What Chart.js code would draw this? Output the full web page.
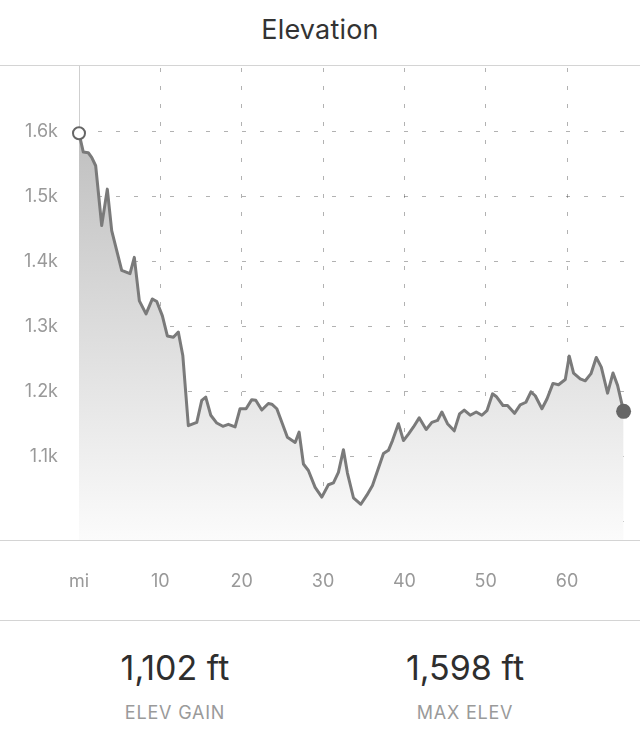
<!DOCTYPE html>
<html>
<head>
<meta charset="utf-8">
<script src="https://cdn.jsdelivr.net/npm/chart.js@4/dist/chart.umd.min.js"></script>
<style>
  html, body { margin: 0; padding: 0; background: #fff; }
  body { width: 640px; height: 740px; position: relative; overflow: hidden; font-family: Inter, Roboto, "Liberation Sans", sans-serif; }
  .title { position: absolute; top: 13px; left: 0; width: 640px; text-align: center; font-size: 27px; color: #333; line-height: 34px; letter-spacing: 0.2px; }
  .rule { position: absolute; left: 0; width: 640px; height: 1px; background: #d4d4d4; }
  #wrap { position: absolute; top: 0; left: 0; width: 640px; height: 620px; }
  .stat { position: absolute; width: 240px; text-align: center; }
  .stat .v { font-size: 34px; color: #2e2e2e; line-height: 40px; }
  .stat .l { font-size: 18px; color: #9a9a9a; line-height: 24px; margin-top: 13px; letter-spacing: 0.8px; }
</style>
</head>
<body>
<div class="title">Elevation</div>
<div id="wrap"><canvas id="c" width="640" height="620"></canvas></div>
<div class="rule" style="top:65px"></div>
<div class="rule" style="top:540px"></div>
<div class="rule" style="top:620px"></div>
<div class="stat" style="left:55px; top:648px"><div class="v">1,102 ft</div><div class="l">ELEV GAIN</div></div>
<div class="stat" style="left:345px; top:648px"><div class="v">1,598 ft</div><div class="l">MAX ELEV</div></div>
<script>
// Distance along route (miles)
const distances = [0.0, 0.53, 1.14, 1.56, 2.05, 2.79, 3.48, 4.02, 5.25, 6.27,
  6.80, 7.42, 8.24, 9.02, 9.56, 10.25, 10.86, 11.60, 12.21, 12.76,
  13.44, 14.48, 15.09, 15.58, 16.20, 16.94, 17.68, 18.36, 19.19, 19.80,
  20.54, 21.24, 21.73, 22.47, 23.28, 23.70, 24.32, 25.62, 26.57, 27.06,
  27.59, 28.20, 29.03, 29.85, 30.66, 31.28, 31.89, 32.51, 33.00, 33.74,
  34.65, 35.39, 36.08, 37.43, 38.04, 38.54, 39.27, 39.89, 40.50, 41.12,
  41.82, 42.68, 43.38, 44.07, 44.61, 45.30, 46.13, 46.78, 47.36, 48.09,
  48.83, 49.53, 50.15, 50.84, 51.29, 52.12, 52.68, 53.54, 54.24, 54.94,
  55.56, 56.09, 56.91, 57.53, 58.27, 58.95, 59.78, 60.27, 60.80, 61.62,
  62.24, 62.94, 63.59, 64.21, 64.98, 65.65, 66.21, 66.95];
// Elevation (feet)
const elevations = [1598, 1569, 1568, 1561, 1548, 1456, 1512, 1448, 1387, 1382,
  1407, 1340, 1320, 1343, 1339, 1317, 1286, 1284, 1292, 1256,
  1148, 1153, 1187, 1192, 1164, 1152, 1147, 1150, 1146, 1174,
  1174, 1188, 1187, 1172, 1182, 1181, 1174, 1130, 1122, 1138,
  1089, 1079, 1053, 1038, 1057, 1060, 1076, 1111, 1075, 1037,
  1027, 1041, 1056, 1105, 1110, 1125, 1151, 1125, 1135, 1146,
  1160, 1142, 1153, 1156, 1169, 1151, 1140, 1166, 1172, 1164,
  1169, 1164, 1171, 1197, 1193, 1179, 1179, 1167, 1180, 1184,
  1200, 1194, 1174, 1189, 1213, 1211, 1219, 1255, 1229, 1220,
  1217, 1228, 1253, 1238, 1198, 1229, 1210, 1170];
const xTicks = [0, 10, 20, 30, 40, 50, 60];
const yTicks = [1000, 1100, 1200, 1300, 1400, 1500, 1600];
const xUnitLabel = 'mi';
const xRange = [0, 67];
const yRange = [972, 1701.5];

const points = distances.map((d, i) => ({ x: d, y: elevations[i] }));
const lastIdx = points.length - 1;
const FONT = 'Inter';

new Chart(document.getElementById('c'), {
  type: 'line',
  data: {
    datasets: [{
      data: points,
      borderColor: '#7a7a7a',
      borderWidth: 3,
      borderJoinStyle: 'round',
      tension: 0,
      fill: 'start',
      clip: false,
      backgroundColor: (ctx) => {
        const ca = ctx.chart.chartArea;
        if (!ca) return '#ddd';
        const g = ctx.chart.ctx.createLinearGradient(0, ca.top, 0, ca.bottom);
        g.addColorStop(0, 'rgb(182,182,182)');
        g.addColorStop(1, 'rgb(251,251,251)');
        return g;
      },
      pointRadius: (ctx) => ctx.dataIndex === 0 ? 6 : (ctx.dataIndex === lastIdx ? 7.5 : 0),
      pointBackgroundColor: (ctx) => ctx.dataIndex === 0 ? '#ffffff' : '#666666',
      pointBorderColor: '#666666',
      pointBorderWidth: (ctx) => ctx.dataIndex === 0 ? 2 : 0
    }]
  },
  options: {
    responsive: false,
    animation: false,
    events: [],
    layout: { padding: { top: 66, left: 0, right: 16, bottom: 0 } },
    plugins: { legend: { display: false }, tooltip: { enabled: false }, title: { display: false } },
    scales: {
      x: {
        type: 'linear',
        min: xRange[0], max: xRange[1],
        afterBuildTicks: (s) => { s.ticks = xTicks.map(v => ({ value: v })); },
        afterFit: (s) => { s.height = 80; },
        border: { display: false, dash: [4, 14], dashOffset: -2 },
        grid: {
          drawTicks: false,
          color: (ctx) => (ctx.tick && ctx.tick.value === 0) ? 'rgba(0,0,0,0)' : 'rgba(0,0,0,0.3)',
          lineWidth: 1
        },
        ticks: {
          padding: 31,
          color: '#999',
          font: { family: FONT, size: 18 },
          maxRotation: 0,
          autoSkip: false,
          callback: (v) => v === 0 ? xUnitLabel : String(v)
        }
      },
      y: {
        type: 'linear',
        min: yRange[0], max: yRange[1],
        afterBuildTicks: (s) => { s.ticks = yTicks.map(v => ({ value: v })); },
        afterFit: (s) => { s.width = 79; },
        border: { display: true, color: '#cfcfcf', width: 1, dash: [4, 14] },
        grid: {
          drawTicks: false,
          color: 'rgba(0,0,0,0.3)',
          lineWidth: 1
        },
        ticks: {
          padding: 21,
          color: '#999',
          font: { family: FONT, size: 18 },
          autoSkip: false,
          callback: (v) => v === 1000 ? '' : (v / 1000).toFixed(1) + 'k'
        }
      }
    }
  }
});
</script>
</body>
</html>
